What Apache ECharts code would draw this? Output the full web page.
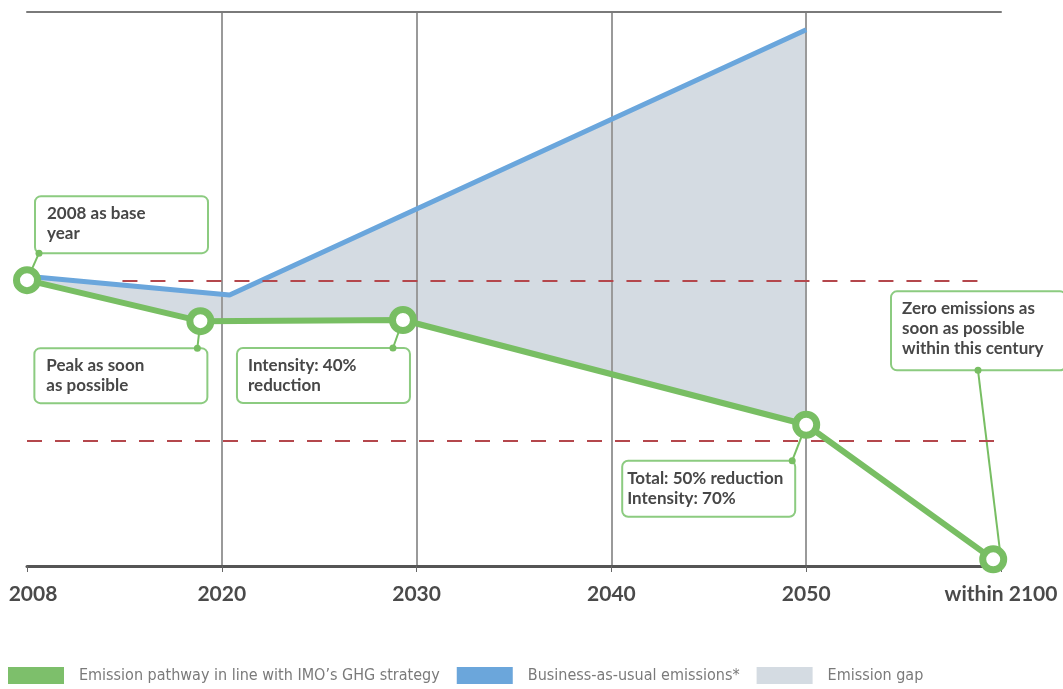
<!DOCTYPE html>
<html>
<head>
<meta charset="utf-8">
<script src="https://cdn.jsdelivr.net/npm/echarts/dist/echarts.min.js"></script>
<style>
html,body{margin:0;padding:0;background:#fff;}
#chart{width:1063px;height:689px;}
</style>
</head>
<body>
<div id="chart"></div>
<script>
// ---- data ----
var tickLabels = ['2008', '2020', '2030', '2040', '2050', 'within 2100'];
// positions on the axis are tick indices (0 = 2008 ... 5 = within 2100)
var greenX = [0, 0.89, 1.93, 4.0, 4.96];
var greenY = [51.6, 44.2, 44.4, 25.5, 1.2];
var blueX = [0, 1.04, 4.0];
var blueY = [52.3, 48.9, 96.8];
var refLevels = [51.4, 22.6];
var refStart = [0.49, 0];
var refEnd = [4.94, 5.0];
var seriesNames = ['Emission pathway in line with IMO\u2019s GHG strategy', 'Business-as-usual emissions*', 'Emission gap'];
var annoTexts = ['2008 as base\nyear', 'Peak as soon\nas possible', 'Intensity: 40%\nreduction', 'Total: 50% reduction\nIntensity: 70%', 'Zero emissions as\nsoon as possible\nwithin this century'];
var annoX = [0, 0.89, 1.93, 4.0, 5.0];
var annoY = [51.6, 44.2, 44.4, 25.5, 1.2];

// ---- layout / style (pixels) ----
var boxLayout = [
  {dx: 8, dy: -84, w: 173, h: 57, dotX: 4, dotY: 'bottom', pad: 12},
  {dx: -166, dy: 27, w: 173, h: 55, dotX: 163, dotY: 'top', pad: 12},
  {dx: -166, dy: 28, w: 173, h: 55, dotX: 156, dotY: 'top', pad: 11},
  {dx: -184, dy: 36, w: 173, h: 56, dotX: 170, dotY: 'top', pad: 5},
  {dx: -110, dy: -268, w: 175, h: 79, dotX: 87, dotY: 'bottom', pad: 11}
];
var GREEN = '#78be63';
var BLUE = '#6aa6dc';
var GAP = '#d4dbe2';
var BOXLINE = '#8ccb80';

var greenData = greenX.map(function (x, i) { return [x, greenY[i]]; });
var blueData = blueX.map(function (x, i) { return [x, blueY[i]]; });
var gapData = [];
blueX.forEach(function (x, i) { gapData.push([x, blueY[i]]); });
for (var i = greenX.length - 1; i >= 0; i--) {
  if (greenX[i] <= blueX[blueX.length - 1]) gapData.push([greenX[i], greenY[i]]);
}
var annoData = annoX.map(function (x, i) { return [x, annoY[i]]; });

var chart = echarts.init(document.getElementById('chart'), null, {renderer: 'canvas'});

var option = {
  backgroundColor: '#ffffff',
  animation: false,
  grid: {left: 27, right: 62, top: 12, bottom: 123, containLabel: false, outerBoundsMode: 'none'},
  xAxis: [{
    type: 'value', min: 0, max: 5, interval: 1, z: 2,
    axisLine: {show: true, onZero: false, lineStyle: {color: '#555555', width: 3}},
    axisTick: {show: true, length: 6, lineStyle: {color: '#666666', width: 1}},
    axisLabel: {
      margin: 18, fontSize: 21, fontWeight: 'bold', fontFamily: 'Lato, "Noto Sans", sans-serif', color: '#4a4a4a',
      formatter: function (v) {
        var k = Math.round(v);
        return k === 0 ? '{first|' + tickLabels[k] + '}' : tickLabels[k];
      },
      rich: {first: {fontSize: 21, fontWeight: 'bold', fontFamily: 'Lato, "Noto Sans", sans-serif', color: '#4a4a4a', padding: [0, 0, 0, 12]}}
    },
    splitLine: {show: true, showMinLine: false, showMaxLine: false, lineStyle: {color: '#9a9a9a', width: 2}}
  }, {
    type: 'value', min: 0, max: 5, interval: 1, position: 'top', z: 2,
    axisLine: {show: true, onZero: false, lineStyle: {color: '#7a7a7a', width: 2}},
    axisTick: {show: false}, axisLabel: {show: false}, splitLine: {show: false}
  }],
  yAxis: {
    type: 'value', min: 0, max: 100, show: true,
    axisLine: {show: false}, axisTick: {show: false}, axisLabel: {show: false}, splitLine: {show: false}
  },
  legend: {
    left: 8, top: 667, orient: 'horizontal', padding: 0, itemWidth: 56, itemHeight: 17, itemGap: 17,
    icon: 'rect', selectedMode: false,
    itemStyle: {borderWidth: 0},
    textStyle: {fontSize: 16, color: '#7a7a7a', fontFamily: '"Liberation Sans Narrow", "DejaVu Sans Condensed", sans-serif', padding: [0, 0, 0, 10]},
    data: [
      {name: seriesNames[0], icon: 'rect', itemStyle: {color: '#7dbf6b', borderWidth: 0}},
      {name: seriesNames[1], icon: 'rect', itemStyle: {color: '#6ba6db', borderWidth: 0}},
      {name: seriesNames[2], icon: 'rect', itemStyle: {color: GAP, borderWidth: 0}}
    ]
  },
  series: [
    {
      name: seriesNames[2], type: 'custom', z: 1, clip: false,
      itemStyle: {color: GAP},
      data: gapData,
      renderItem: function (params, api) {
        if (params.dataIndex !== 0) return null;
        var pts = gapData.map(function (d) { return api.coord(d); });
        return {type: 'polygon', shape: {points: pts}, style: {fill: GAP, stroke: null}};
      }
    },
    {
      name: 'refs', type: 'line', z: 3, data: [], symbol: 'none',
      markLine: {
        silent: true, symbol: ['none', 'none'], label: {show: false},
        lineStyle: {color: '#b4474c', width: 2, type: [15, 13]},
        data: refLevels.map(function (v, i) {
          return [{coord: [refStart[i], v]}, {coord: [refEnd[i], v]}];
        })
      }
    },
    {
      name: 'annotations', type: 'custom', z: 3, clip: false, silent: true,
      data: annoData,
      renderItem: function (params, api) {
        var i = params.dataIndex;
        var L = boxLayout[i];
        var p = api.coord([api.value(0), api.value(1)]);
        var bx = p[0] + L.dx, by = p[1] + L.dy;
        var dx = bx + L.dotX, dy = L.dotY === 'bottom' ? by + L.h : by;
        return {
          type: 'group',
          children: [
            {type: 'line', shape: {x1: dx, y1: dy, x2: p[0], y2: p[1]}, style: {stroke: GREEN, lineWidth: 2}},
            {type: 'rect', shape: {x: bx, y: by, width: L.w, height: L.h, r: 6}, style: {fill: '#ffffff', stroke: BOXLINE, lineWidth: 2}},
            {type: 'text', style: {text: annoTexts[i], x: bx + L.pad, y: by + 7.5, fill: '#474747',
              font: 'bold 17px Lato, "Noto Sans", sans-serif', lineHeight: 20, verticalAlign: 'top', align: 'left'}},
            {type: 'circle', shape: {cx: dx, cy: dy, r: 3.5}, style: {fill: GREEN}}
          ]
        };
      }
    },
    {
      name: seriesNames[1], type: 'line', z: 4, data: blueData,
      symbol: 'none', lineStyle: {color: BLUE, width: 5}, itemStyle: {color: BLUE}
    },
    {
      name: seriesNames[0], type: 'line', z: 5, data: greenData,
      symbol: 'circle', symbolSize: 21, showSymbol: true,
      lineStyle: {color: GREEN, width: 6},
      itemStyle: {color: '#ffffff', borderColor: GREEN, borderWidth: 7}
    }
  ]
};
chart.setOption(option);
</script>
</body>
</html>
